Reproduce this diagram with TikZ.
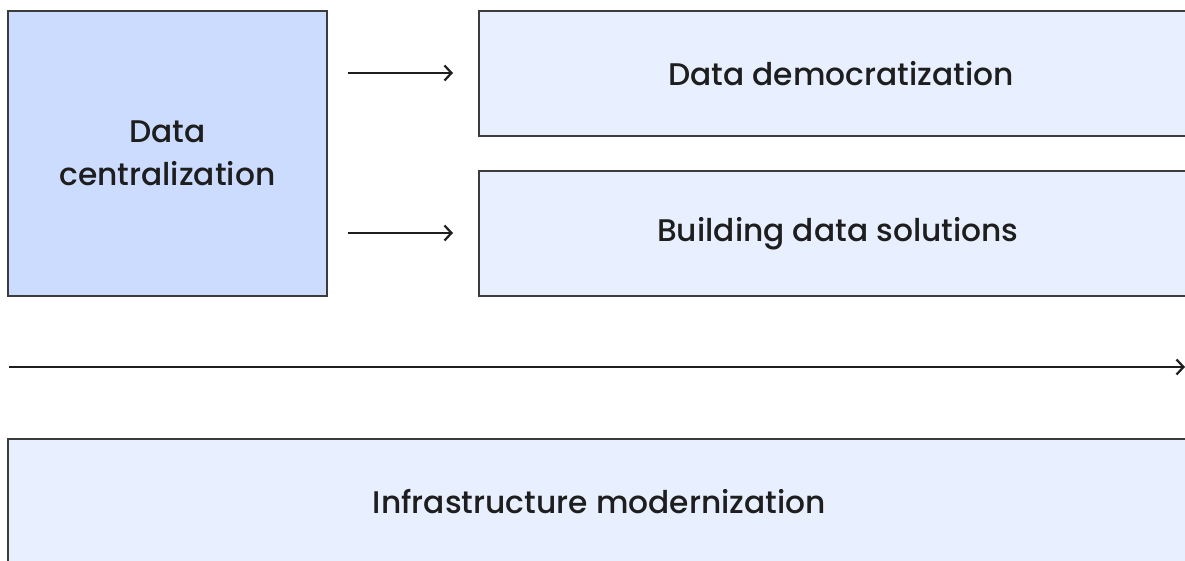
\documentclass[tikz,border=0pt]{standalone}
\usepackage{fontspec}
\setmainfont{Poppins Medium}
\usetikzlibrary{arrows.meta}
\definecolor{centfill}{HTML}{CCDCFF}
\definecolor{lightfill}{HTML}{E8EFFF}
\definecolor{edge}{HTML}{3C3C3C}
\definecolor{ink}{HTML}{1E1E1E}
\tikzset{
  box/.style={draw=edge, line width=1.8pt, fill=lightfill, anchor=north west,
    inner sep=0pt, text=ink, font=\fontsize{31.3}{43}\selectfont, align=center},
  flow/.style={draw=ink, line width=2.2pt, -{Straight Barb[length=7pt,width=15pt,line width=2.2pt]}}
}
\begin{document}
\begin{tikzpicture}[x=1pt,y=-1pt]
\useasboundingbox (0,0) rectangle (1185,561);
\clip (0,0) rectangle (1185,561);
\node[box, fill=centfill, minimum width=319pt, minimum height=285pt] (cent) at (7,10) {Data\\centralization};
\node[box, minimum width=724pt, minimum height=125pt] (demo) at (478,10) {Data democratization};
\node[box, minimum width=718pt, minimum height=125pt] (build) at (478,170) {Building data solutions};
\node[box, minimum width=1183pt, minimum height=125pt] (infra) at (7,438) {Infrastructure modernization};
\coordinate (a1s) at (348,73);
\coordinate (a1e) at (453,73);
\coordinate (a2s) at (348,233);
\coordinate (a2e) at (453,233);
\coordinate (ts) at (9,367);
\coordinate (te) at (1185,367);
\draw[flow] (a1s) -- (a1e);
\draw[flow] (a2s) -- (a2e);
\draw[flow] (ts) -- (te);
\end{tikzpicture}
\end{document}
